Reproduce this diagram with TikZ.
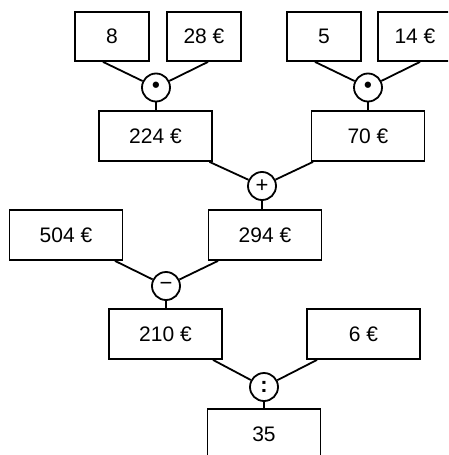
\documentclass[tikz,border=0pt]{standalone}
\usepackage{fontspec}
\setmainfont{Liberation Sans}
\tikzset{
    box/.style={draw, line width=1.8pt, minimum width=#1, minimum height=50pt,
        inner sep=0pt, font=\fontsize{21}{24}\selectfont},
    box/.default=113pt,
    op/.style={draw, circle, line width=1.8pt, minimum size=28pt, inner sep=0pt,
        font=\fontsize{22}{24}\selectfont},
    link/.style={line width=1.8pt},
}

\begin{document}
\begin{tikzpicture}[x=1pt, y=-1pt]
    \clip (0,0) rectangle (448,455);
    \useasboundingbox (0,0) rectangle (448,455);
    % factors
    \foreach \name/\x/\txt in {b8/112/8, b28/204/28 €, b5/324/5, b14/415/14 €}
        \node[box=74pt, minimum height=49pt] (\name) at (\x,36.5) {\txt};
    \node[op] (dot1) at (156,87.5) {\textbf{•}};
    \node[op] (dot2) at (368,87.5) {\textbf{•}};
    % products and the rest
    \node[box] (b224) at (155.5,136) {224 €};
    \node[box] (b70) at (368,136) {70 €};
    \node[op] (plus) at (262,186) {+};
    \node[box] (b504) at (66,235) {504 €};
    \node[box] (b294) at (265,235) {294 €};
    \node[op] (minus) at (166,286) {−};
    \node[box] (b210) at (165.5,334) {210 €};
    \node[box] (b6) at (363.5,334) {6 €};
    \node[op] (colon) at (264,387) {\textbf{:}};
    \node[box] (b35) at (264,434) {35};
    % connectors
    \draw[link] ([xshift=-9pt]b8.south) -- (dot1) -- ([xshift=4pt]b28.south);
    \draw[link] ([xshift=-9pt]b5.south) -- (dot2) -- ([xshift=5pt]b14.south);
    \draw[link] ([xshift=54pt]b224.south) -- (plus) -- ([xshift=-55pt]b70.south);
    \draw[link] ([xshift=49pt]b504.south) -- (minus) -- ([xshift=-47pt]b294.south);
    \draw[link] ([xshift=47.5pt]b210.south) -- (colon) -- ([xshift=-46.5pt]b6.south);
    \foreach \o/\b in {dot1/b224, dot2/b70, plus/b294, minus/b210, colon/b35}
        \draw[link] (\o) -- (\o |- \b.north);
\end{tikzpicture}
\end{document}
